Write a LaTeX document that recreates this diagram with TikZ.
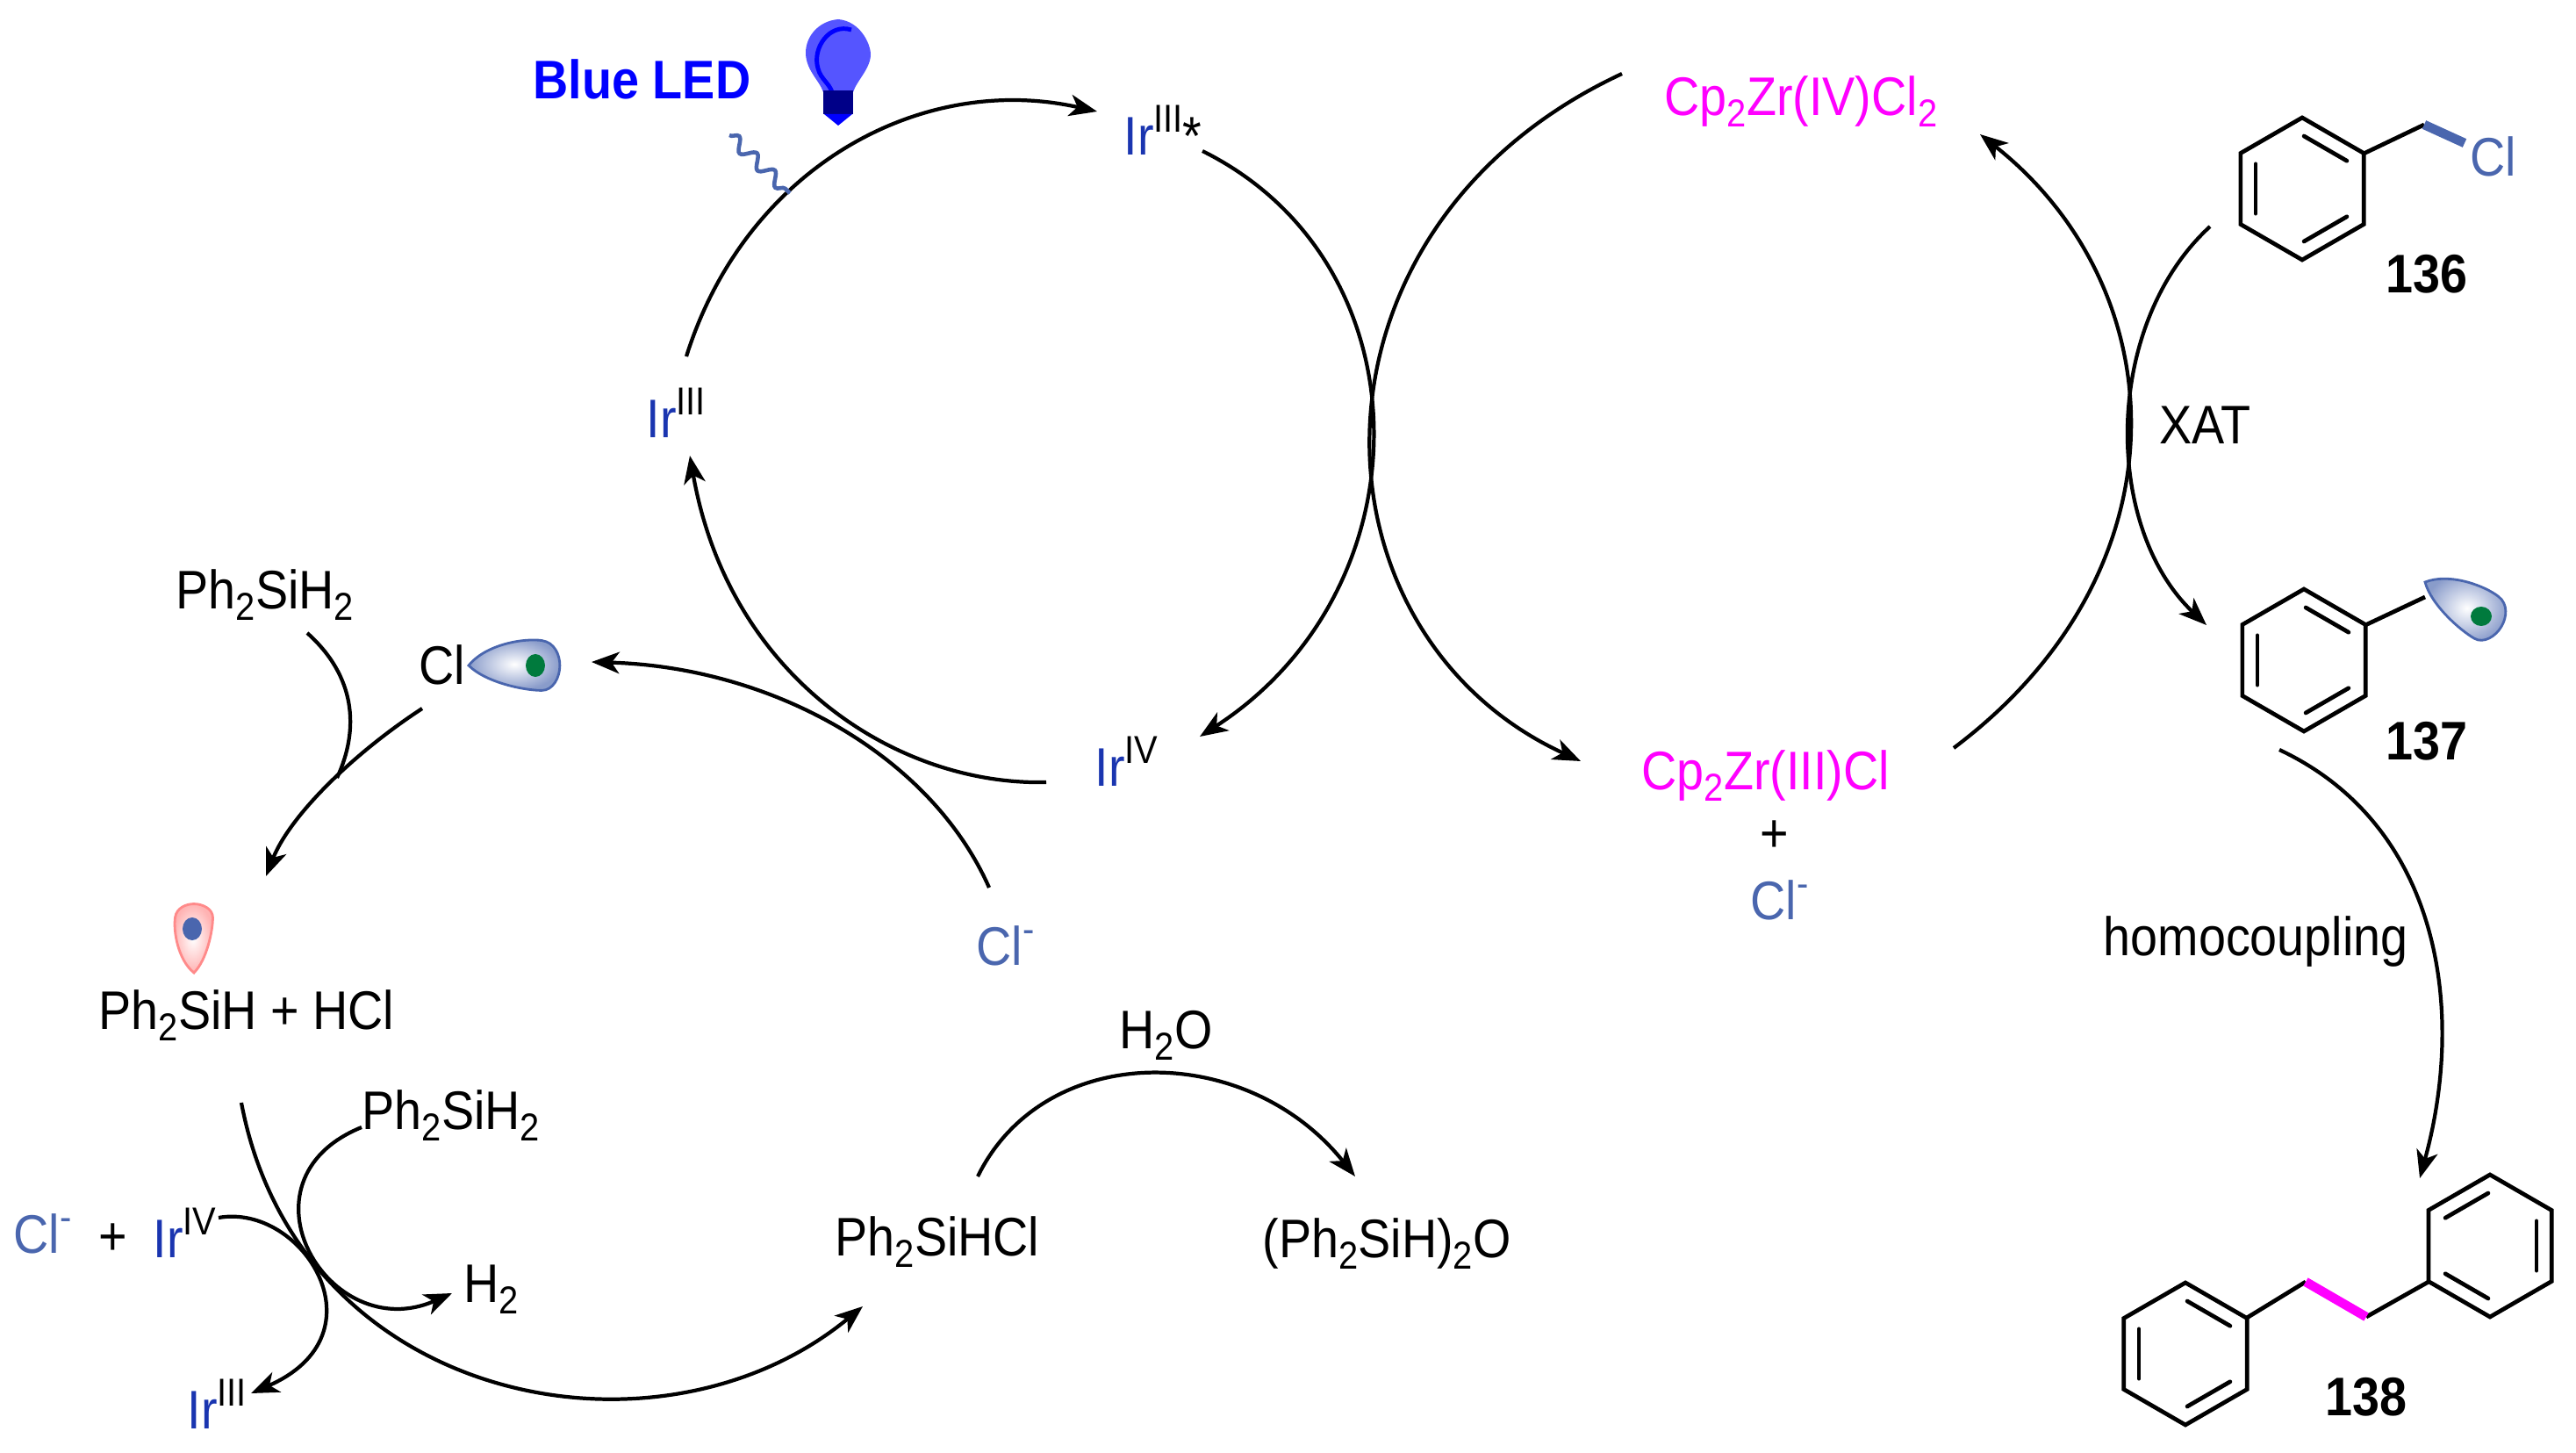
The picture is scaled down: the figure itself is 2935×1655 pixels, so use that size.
\documentclass[tikz,border=0pt]{standalone}
\usepackage{fontspec}
\setmainfont[FakeStretch=0.9]{Liberation Sans}
\usetikzlibrary{arrows.meta,decorations.pathmorphing}
\definecolor{irblue}{HTML}{1A35B0}
\definecolor{clblue}{HTML}{4A66AE}
\definecolor{zrpink}{HTML}{FF00FF}
\definecolor{ledblue}{HTML}{0000FF}
\definecolor{bulblight}{HTML}{5555FF}
\definecolor{bulbdark}{HTML}{000088}
\definecolor{blobred}{HTML}{FF8A8A}
\definecolor{dotgreen}{HTML}{007A3D}
\newcommand{\sbs}[1]{\raisebox{-0.22em}{\fontsize{12.6}{14}\selectfont #1}}
\newcommand{\sps}[1]{\raisebox{0.42em}{\fontsize{12.6}{14}\selectfont #1}}
\newcommand{\irox}[1]{\textcolor{irblue}{Ir}\sps{#1}}
\newcommand{\clion}{\textcolor{clblue}{Cl\sps{-}}}
% hexagon with three inner bonds, #2 = angle of the first inner bond
\newcommand{\phring}[2]{%
  \draw[bond] (#1)+(-90:81) -- +(-30:81) -- +(30:81) -- +(90:81) -- +(150:81) -- +(210:81) -- cycle;
  \foreach \a in {0,120,240}
    \draw[bond,line cap=round] (#1)+(#2+\a+2:60) -- +(#2+\a+58:60);
}
% tear shaped orbital: position, rotation, scale, shell colour
\newcommand{\orbital}[4]{%
  \begin{scope}[shift={(#1)},rotate=#2,scale=#3]
    \shade[inner color=white,outer color=#4!65,draw=#4,line width=0.8pt]
      (0,0) .. controls (20,-25) and (65,-32) .. (85,-29)
      .. controls (100,-27) and (106,-12) .. (106,0)
      .. controls (106,14) and (98,29) .. (85,29)
      .. controls (65,29) and (20,20) .. (0,0) -- cycle;
  \end{scope}
}
\begin{document}
\begin{tikzpicture}[x=0.01cm,y=-0.01cm,
  chem/.style={anchor=base west,inner sep=0pt,yshift=-0.6pt,font=\fontsize{17.6}{20}\selectfont},
  num/.style={chem,font=\fontsize{17.6}{20}\selectfont\bfseries},
  zr/.style={chem,text=zrpink},
  curve/.style={line width=1.2pt},
  rxn/.style={curve,-{Stealth[length=9pt,width=7pt,inset=2.5pt]}},
  bond/.style={line width=1.35pt,line join=miter}
]
\useasboundingbox (0,0) rectangle (2935,1655);

% labels
\node[chem,text=ledblue,font=\fontsize{17.6}{20}\selectfont\bfseries] (led) at (607,110) {Blue LED};
\node[chem] (irstar) at (1280,174) {\irox{III}*};
\node[chem] (irthree) at (736,496) {\irox{III}};
\node[chem] (irfour) at (1247,893) {\irox{IV}};
\node[zr] (zrfour) at (1896,129) {Cp\sbs{2}Zr(IV)Cl\sbs{2}};
\node[zr] (zrthree) at (1870,897) {Cp\sbs{2}Zr(III)Cl};
\node[chem] (plusa) at (2005,968) {+};
\node[chem] (cla) at (1994,1045) {\clion};
\node[chem] (clb) at (1112,1097) {\clion};
\node[chem,text=clblue] (clbenz) at (2814,198) {Cl};
\node[num] (n136) at (2718,331) {136};
\node[num] (n137) at (2718,863) {137};
\node[num] (n138) at (2649,1610) {138};
\node[chem] (xat) at (2460,503) {XAT};
\node[chem] (homo) at (2396,1086) {homocoupling};
\node[chem] (silaa) at (200,691) {Ph\sbs{2}SiH\sbs{2}};
\node[chem] (clrad) at (477,777) {Cl};
\node[chem] (silrad) at (112,1170) {Ph\sbs{2}SiH + HCl};
\node[chem] (silab) at (412,1284) {Ph\sbs{2}SiH\sbs{2}};
\node[chem] (clc) at (15,1425) {\clion};
\node[chem] (plusb) at (112,1427) {+};
\node[chem] (irfourb) at (174,1430) {\irox{IV}};
\node[chem] (htwo) at (528,1481) {H\sbs{2}};
\node[chem] (irthreeb) at (213,1625) {\irox{III}};
\node[chem] (silcl) at (951,1428) {Ph\sbs{2}SiHCl};
\node[chem] (silox) at (1438,1430) {(Ph\sbs{2}SiH)\sbs{2}O};
\node[chem] (water) at (1275,1192) {H\sbs{2}O};

% free ends of the curved arrows
\coordinate (irthree-up) at (782,406);
\coordinate (irstar-in) at (1250,127);
\coordinate (irstar-out) at (1370,172);
\coordinate (irfour-in) at (1367,839);
\coordinate (irfour-out) at (1192,891);
\coordinate (irthree-in) at (786,519);
\coordinate (clb-out) at (1127,1011);
\coordinate (clrad-in) at (674,754);
\coordinate (zrfour-out) at (1848,84);
\coordinate (zrthree-in) at (1801,867);
\coordinate (zrthree-out) at (2226,852);
\coordinate (zrfour-in) at (2256,153);
\coordinate (benz-out) at (2518,258);
\coordinate (radical-in) at (2514,712);
\coordinate (radical-out) at (2597,854);
\coordinate (dimer-in) at (2757,1342);
\coordinate (silaa-out) at (350,721);
\coordinate (merge) at (384,886);
\coordinate (clrad-out) at (481,807);
\coordinate (silrad-in) at (303,998);
\coordinate (silrad-out) at (275,1256);
\coordinate (silcl-in) at (983,1488);
\coordinate (silab-out) at (412,1284);
\coordinate (htwo-in) at (515,1473);
\coordinate (irfourb-out) at (249,1387);
\coordinate (irthreeb-in) at (286,1587);
\coordinate (silcl-out) at (1114,1340);
\coordinate (silox-in) at (1544,1340);
\coordinate (hv-from) at (831,154);
\coordinate (hv-to) at (900,220);

% iridium and zirconium cycles
\draw[rxn] (irthree-up) .. controls (850,190) and (1050,82) .. (irstar-in);
\draw[rxn] (irstar-out) .. controls (1628,300) and (1628,670) .. (irfour-in);
\draw[rxn] (irfour-out) .. controls (1020,895) and (830,770) .. (irthree-in);
\draw[rxn] (clb-out) .. controls (1060,860) and (880,760) .. (clrad-in);
\draw[rxn] (zrfour-out) .. controls (1470,260) and (1482,720) .. (zrthree-in);
\draw[rxn] (zrthree-out) .. controls (2495,650) and (2480,330) .. (zrfour-in);
\draw[rxn] (benz-out) .. controls (2396,370) and (2396,600) .. (radical-in);
\draw[rxn] (radical-out) .. controls (2780,940) and (2810,1150) .. (dimer-in);

% silane part
\draw[curve] (silaa-out) .. controls (405,770) and (410,830) .. (merge);
\draw[rxn] (clrad-out) .. controls (400,860) and (330,930) .. (silrad-in);
\draw[rxn] (silrad-out) .. controls (340,1600) and (750,1680) .. (silcl-in);
\draw[rxn] (silab-out) .. controls (262,1345) and (375,1535) .. (htwo-in);
\draw[rxn] (irfourb-out) .. controls (345,1370) and (440,1520) .. (irthreeb-in);
\draw[rxn] (silcl-out) .. controls (1190,1185) and (1420,1185) .. (silox-in);

% light
\draw[clblue,line width=1.3pt,decorate,decoration={snake,amplitude=2pt,segment length=8pt}] (hv-from) -- (hv-to);
\fill[bulblight] (955,22) .. controls (980,24) and (992,50) .. (992,62)
  .. controls (992,78) and (976,92) .. (972,105) -- (938,105)
  .. controls (934,92) and (918,80) .. (918,60) .. controls (918,42) and (932,24) .. (955,22) -- cycle;
\draw[ledblue,line width=1.4pt] (970,34) .. controls (945,26) and (925,55) .. (932,78) .. controls (935,90) and (945,95) .. (948,105);
\fill[bulbdark] (938,103) rectangle (972,130);
\fill[ledblue] (939,130) -- (971,130) -- (955,143) -- cycle;

% rings
\coordinate (ring136) at (2623,215);
\coordinate (ring137) at (2625,752);
\coordinate (ringleft) at (2490,1542);
\coordinate (ringright) at (2837,1419);
\phring{ring136}{-90}
\phring{ring137}{-90}
\phring{ringleft}{-90}
\phring{ringright}{-150}

% side chains
\draw[bond] (2693,175) -- (2762,142);
\draw[clblue,line width=3pt] (2762,142) -- (2808,163);
\draw[bond] (2695,712) -- (2763,680);
\draw[bond] (2560,1501) -- (2627,1460);
\draw[bond] (2696,1500) -- (2767,1460);
\draw[zrpink,line width=3pt] (2627,1460) -- (2696,1500);

% orbitals
\orbital{534,758}{0}{0.98}{clblue}
\orbital{2763,663}{-30}{0.95}{clblue}
\orbital{221,1108}{90}{0.74}{blobred}
\fill[dotgreen] (610,758) ellipse (11 and 13);
\fill[dotgreen] (2827,702) ellipse (12 and 11);
\fill[clblue] (219,1058) ellipse (11 and 13);
\end{tikzpicture}
\end{document}
